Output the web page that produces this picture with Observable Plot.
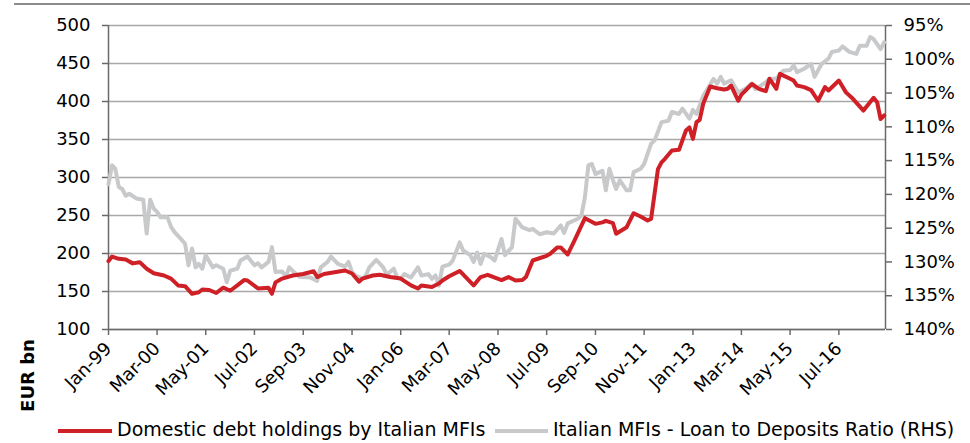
<!DOCTYPE html>
<html>
<head>
<meta charset="utf-8">
<script src="https://cdn.jsdelivr.net/npm/d3@7"></script>
<script src="https://cdn.jsdelivr.net/npm/@observablehq/plot@0.6"></script>
<style>
  html, body { margin: 0; padding: 0; background: #fff; }
  body { font-family: "DejaVu Sans", sans-serif; color: #000; }
  #wrap { position: relative; width: 970px; height: 443px; overflow: hidden; }
  #topline { position: absolute; left: 14px; right: 0; top: 3px; height: 2px; background: #8c8c8c; }
  #chart { position: absolute; left: 0; top: 0; }
  #legend { position: absolute; left: 0; top: 415px; width: 970px; height: 28px; }
  .sw { position: absolute; height: 4px; top: 14px; }
  .lt { position: absolute; top: 3px; font-size: 19px; line-height: 22px; white-space: nowrap; color: #000; }
</style>
</head>
<body>
<div id="wrap">
  <div id="chart"></div>
  <div id="topline"></div>
  <div id="legend"></div>
</div>
<script>
// ---- Data ----
const seriesNames = ["Domestic debt holdings by Italian MFIs", "Italian MFIs - Loan to Deposits Ratio (RHS)"];
const yAxisLabel = "EUR bn";

const leftTicks = [100, 150, 200, 250, 300, 350, 400, 450, 500];
const rightTicks = [95, 100, 105, 110, 115, 120, 125, 130, 135, 140];
const xTickDates = ["1999-01","2000-03","2001-05","2002-07","2003-09","2004-11","2006-01","2007-03","2008-05","2009-07","2010-09","2011-11","2013-01","2014-03","2015-05","2016-07"];

const redDates = ["1999-01","1999-02","1999-04","1999-06","1999-08","1999-10","1999-12","2000-02","2000-05","2000-07","2000-09","2000-11","2001-01","2001-03","2001-04","2001-06","2001-08","2001-10","2001-12","2002-02","2002-04","2002-05","2002-08","2002-11","2002-12","2003-01","2003-03","2003-06","2003-09","2003-12","2004-01","2004-03","2004-06","2004-09","2004-11","2005-01","2005-02","2005-05","2005-07","2005-10","2006-01","2006-04","2006-06","2006-07","2006-10","2006-12","2007-01","2007-03","2007-06","2007-10","2007-12","2008-02","2008-06","2008-08","2008-10","2008-12","2009-01","2009-03","2009-07","2009-08","2009-10","2009-11","2010-01","2010-03","2010-06","2010-09","2010-11","2010-12","2011-02","2011-03","2011-06","2011-08","2011-10","2011-12","2012-01","2012-03","2012-04","2012-05","2012-07","2012-09","2012-11","2012-12","2013-01","2013-02","2013-03","2013-04","2013-06","2013-08","2013-10","2013-11","2013-12","2014-02","2014-03","2014-06","2014-08","2014-10","2014-11","2015-01","2015-02","2015-05","2015-06","2015-07","2015-09","2015-11","2016-01","2016-03","2016-04","2016-07","2016-09","2016-11","2017-02","2017-05","2017-06","2017-07","2017-08"];
const redValues = [190,196,193,192,187,188.6,180,174,171,167,158,157,147,149,152.6,152,148,155,151,158,165,164.5,154,155,147,162,167,171,173,176.7,169,173,175.4,177.6,173.7,163,167,171,172,169,167,158,154,158,156,160.5,164.5,170,177,158,169,172,165,169,164.5,165,169,190.8,197,199.6,208,208,198.7,217,246.5,239,241,243,240,226,234.6,253,248.7,243.4,245.6,311,320,324.6,335.5,336.4,361.8,366,350.8,372.8,375.9,397,419.7,417.5,415.8,416.7,421,401,409,423,416.7,413.6,430,416.7,436.4,430,427.6,421,418.9,415,401,419,414.5,427.6,412,403.5,388,404.8,399,377,381.6];

const grayDates = ["1999-01","1999-02","1999-03","1999-04","1999-05","1999-06","1999-07","1999-09","1999-11","1999-12","2000-01","2000-02","2000-03","2000-04","2000-06","2000-07","2000-08","2000-10","2000-11","2000-12","2001-01","2001-02","2001-03","2001-04","2001-05","2001-07","2001-08","2001-10","2001-11","2001-12","2002-02","2002-03","2002-05","2002-07","2002-08","2002-09","2002-11","2002-12","2003-01","2003-03","2003-04","2003-05","2003-07","2003-08","2003-11","2004-01","2004-02","2004-04","2004-05","2004-07","2004-09","2004-10","2004-11","2004-12","2005-02","2005-03","2005-04","2005-06","2005-08","2005-09","2005-11","2005-12","2006-01","2006-02","2006-04","2006-06","2006-07","2006-09","2006-10","2006-11","2006-12","2007-01","2007-03","2007-04","2007-06","2007-07","2007-09","2007-10","2007-11","2007-12","2008-01","2008-03","2008-04","2008-06","2008-07","2008-09","2008-10","2008-12","2009-02","2009-03","2009-05","2009-07","2009-09","2009-11","2009-12","2010-01","2010-04","2010-05","2010-06","2010-07","2010-08","2010-09","2010-11","2010-12","2011-01","2011-02","2011-03","2011-04","2011-06","2011-07","2011-08","2011-10","2011-11","2012-01","2012-02","2012-04","2012-06","2012-07","2012-09","2012-10","2012-12","2013-01","2013-02","2013-04","2013-05","2013-07","2013-08","2013-09","2013-10","2013-12","2014-02","2014-04","2014-06","2014-07","2014-08","2014-10","2014-11","2015-01","2015-03","2015-05","2015-06","2015-07","2015-09","2015-11","2015-12","2016-02","2016-04","2016-05","2016-07","2016-08","2016-10","2016-12","2017-01","2017-03","2017-04","2017-05","2017-07","2017-08"];
const grayValues = [118.5,115.7,116.2,118.9,119.2,120.2,119.9,120.6,120.8,125.8,120.8,122.1,122.6,123.4,123.4,124.8,125.6,126.7,127.3,130.5,128,130.8,130.3,131,129,130.8,130.5,131,133,131.3,131,129.8,129.2,130.5,130.2,130.8,130,127.8,131.5,131.4,132.2,130.8,131.8,132.2,132.3,132.8,130.8,130,129.2,130.3,130.7,130,131.5,132,132.5,132,130.8,129.7,130.8,131.9,131,132.3,132.5,131.8,132.3,130.8,132,131.8,132.5,132,133.5,130.7,130.4,129.8,127.1,128.3,129,130,128.6,130.3,128.8,129.3,129.8,126.6,129,127.8,123.6,124.9,125.3,125.1,125.9,125.6,125.8,124.6,125.7,124.3,123.6,123.1,120.4,115.7,115.5,117,116.5,119.4,116.2,117.9,119.2,117.9,119.4,119.4,116.7,116.2,115.5,112.5,112,109.3,109.1,107.8,108.1,107.3,108.8,107.5,108.1,105.4,104.6,102.9,103.6,102.6,103.6,103.1,104.9,104.4,103.6,104.4,104.1,103.4,102.9,102.9,101.7,101.6,100.9,101.9,101.4,100.7,102.6,100.7,99.9,98.9,98.7,98.1,98.9,99.2,98,98,96.7,97,98.5,97.5];

const colors = { red: "#cf2027", gray: "#c8c9cb", grid: "#a8a8a8", axis: "#6a6a6a" };

// ---- Build ----
const parse = d3.utcParse("%Y-%m");
// map the right-hand ratio axis (95% top .. 140% bottom) onto the left scale (500 .. 100)
const toLeft = r => 500 - (r - 95) * 400 / 45;
const fromLeft = v => Math.round(95 + (500 - v) * 45 / 400);

const red = redDates.map((d, i) => ({ date: parse(d), value: redValues[i] }));
const gray = grayDates.map((d, i) => ({ date: parse(d), value: toLeft(grayValues[i]) }));
const xDomain = [new Date(Date.UTC(1999, 0, 1)), new Date(Date.UTC(2017, 7, 13))];
const fmt = d3.utcFormat("%b-%y");

const chart = Plot.plot({
  width: 970,
  height: 415,
  marginLeft: 108,
  marginRight: 85,
  marginTop: 25,
  marginBottom: 86,
  style: { fontFamily: "DejaVu Sans, sans-serif", fontSize: "18px", color: "#000", background: "transparent", overflow: "visible" },
  x: { type: "utc", domain: xDomain },
  y: { domain: [100, 500] },
  marks: [
    Plot.gridY(leftTicks, { stroke: colors.grid, strokeOpacity: 1, strokeWidth: 1.5 }),
    Plot.ruleY([100], { stroke: colors.axis, strokeWidth: 1.5 }),
    Plot.ruleX([xDomain[0], xDomain[1]], { stroke: colors.axis, strokeWidth: 1.5 }),
    Plot.axisY(leftTicks, { anchor: "left", tickSize: 6, tickPadding: 12, stroke: colors.axis, strokeWidth: 1.5, label: null, fontSize: 18 }),
    Plot.axisY(rightTicks.map(toLeft), { anchor: "right", tickSize: 6, tickPadding: 12, stroke: colors.axis, strokeWidth: 1.5, label: null, fontSize: 18, tickFormat: v => fromLeft(v) + "%" }),
    Plot.axisX(xTickDates.map(parse), { anchor: "bottom", tickSize: 6, tickPadding: 10, tickRotate: -45, textAnchor: "end", stroke: colors.axis, strokeWidth: 1.5, label: null, fontSize: 18, tickFormat: fmt }),
    Plot.line(gray, { x: "date", y: "value", stroke: colors.gray, strokeWidth: 4, strokeLinejoin: "round", strokeLinecap: "round" }),
    Plot.line(red, { x: "date", y: "value", stroke: colors.red, strokeWidth: 4, strokeLinejoin: "round", strokeLinecap: "round" }),
    Plot.text([yAxisLabel], { frameAnchor: "bottom-left", dx: -75, dy: 46, rotate: -90, textAnchor: "middle", fontWeight: "bold", fontSize: 18 })
  ]
});
document.getElementById("chart").appendChild(chart);

// ---- Legend (HTML, below the plot area) ----
const legend = document.getElementById("legend");
const items = [
  { name: seriesNames[0], color: colors.red, sx: 58, sw: 54, tx: 117 },
  { name: seriesNames[1], color: colors.gray, sx: 495, sw: 53, tx: 553 }
];
for (const it of items) {
  const s = document.createElement("div");
  s.className = "sw";
  s.style.left = it.sx + "px";
  s.style.width = it.sw + "px";
  s.style.background = it.color;
  legend.appendChild(s);
  const t = document.createElement("div");
  t.className = "lt";
  t.style.left = it.tx + "px";
  t.textContent = it.name;
  legend.appendChild(t);
}
</script>
</body>
</html>
